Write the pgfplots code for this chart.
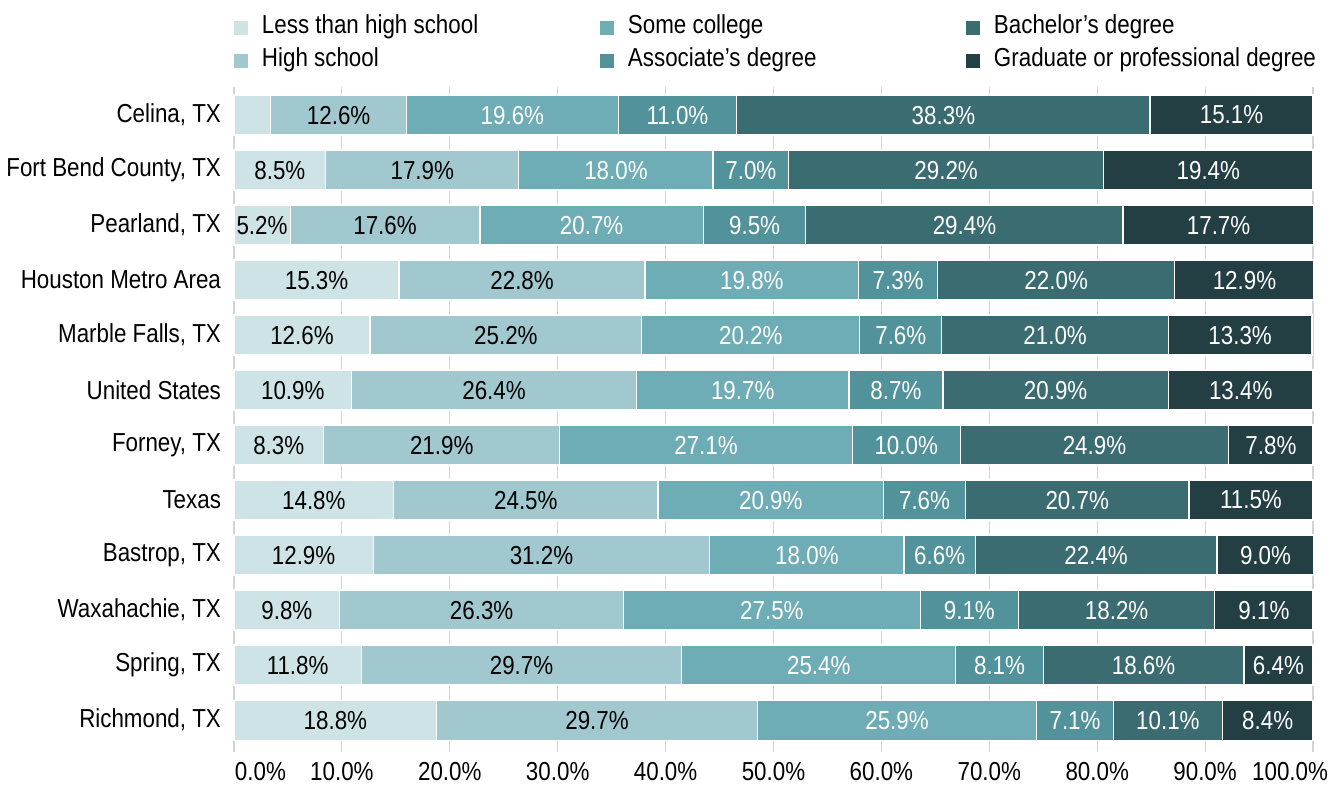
\documentclass[border=0pt]{standalone}
\usepackage{fontspec}
\setmainfont[FakeStretch=0.86]{Liberation Sans}
\usepackage{pgfplots}
\usepackage{pgfplotstable}
\pgfplotsset{compat=1.18}
\definecolor{c1}{HTML}{CDE3E6}
\definecolor{c2}{HTML}{A1C8CE}
\definecolor{c3}{HTML}{6FADB6}
\definecolor{c4}{HTML}{52939B}
\definecolor{c5}{HTML}{3B6C72}
\definecolor{c6}{HTML}{243F44}
\definecolor{gridc}{HTML}{D4D4D4}
\pgfplotstableread{
idx a b c d e f
0 3.4 12.6 19.6 11.0 38.3 15.1
1 8.5 17.9 18.0 7.0 29.2 19.4
2 5.2 17.6 20.7 9.5 29.4 17.7
3 15.3 22.8 19.8 7.3 22.0 12.9
4 12.6 25.2 20.2 7.6 21.0 13.3
5 10.9 26.4 19.7 8.7 20.9 13.4
6 8.3 21.9 27.1 10.0 24.9 7.8
7 14.8 24.5 20.9 7.6 20.7 11.5
8 12.9 31.2 18.0 6.6 22.4 9.0
9 9.8 26.3 27.5 9.1 18.2 9.1
10 11.8 29.7 25.4 8.1 18.6 6.4
11 18.8 29.7 25.9 7.1 10.1 8.4
}\data
\newcommand{\fs}{\fontsize{13}{15.6}\selectfont}
\pgfplotsset{
  seg/.style n args={3}{
    fill=#2, draw=white, line width=0.6pt,
    visualization depends on={\thisrow{#1}\as\segw},
    point meta=explicit,
    nodes near coords={\ifdim\segw pt<4pt\else\pgfmathprintnumber[fixed,fixed zerofill,precision=1,assume math mode=true]{\segw}\%\fi},
    every node near coord/.append style={text=#3, anchor=center, font=\fs},
  }
}
\begin{document}
\begin{tikzpicture}
\useasboundingbox (-117pt,-17.5pt) rectangle (550pt,376pt);
\begin{axis}[
  at={(0,0)}, anchor=south west,
  scale only axis, width=539.5pt, height=332.5pt,
  xbar stacked, bar width=20pt,
  clip=false,
  xmin=0, xmax=100,
  ymin=-0.51, ymax=11.58, y dir=reverse,
  ytick={0,...,11},
  yticklabels={{Celina, TX}, {Fort Bend County, TX}, {Pearland, TX}, {Houston Metro Area}, {Marble Falls, TX}, {United States}, {Forney, TX}, {Texas}, {Bastrop, TX}, {Waxahachie, TX}, {Spring, TX}, {Richmond, TX}},
  xtick={0,10,...,100},
  xticklabels={\makebox[0pt][l]{\kern0.5pt 0.0\%}, 10.0\%, 20.0\%, 30.0\%, 40.0\%, 50.0\%, 60.0\%, 70.0\%, 80.0\%, 90.0\%, \makebox[0pt][r]{100.0\%\kern-7.5pt}},
  ticklabel style={font=\fs, text=black},
  xticklabel style={yshift=-1.5pt},
  yticklabel style={xshift=-3pt},
  xmajorgrids, major grid style={gridc, line width=0.6pt},
  axis line style={draw=none},
  major tick length=0pt,
  legend image code/.code={\fill[#1, draw=none] (0pt,-3.5pt) rectangle (7pt,3.5pt);},
  legend columns=3,
  legend cell align=left,
  legend style={draw=none, fill=none, inner sep=0pt, outer sep=0pt,
    at={(0,1)}, anchor=south west, yshift=5pt,
    font=\fs,
    nodes={inner sep=2pt, text height=9pt, text depth=3pt},
    row sep=0.5pt,
    /tikz/every odd column/.append style={column sep=5pt}},
]
\addlegendimage{fill=c1}
\addlegendimage{fill=c3}
\addlegendimage{fill=c5}
\addlegendimage{fill=c2}
\addlegendimage{fill=c4}
\addlegendimage{fill=c6}
\legend{\makebox[167pt][l]{Less than high school},\makebox[167pt][l]{Some college},Bachelor's degree,\makebox[167pt][l]{High school},\makebox[167pt][l]{Associate's degree},Graduate or professional degree}
\addplot[seg={a}{c1}{black}] table[x=a, y=idx, meta=a]{\data};
\addplot[seg={b}{c2}{black}] table[x=b, y=idx, meta=b]{\data};
\addplot[seg={c}{c3}{white}] table[x=c, y=idx, meta=c]{\data};
\addplot[seg={d}{c4}{white}] table[x=d, y=idx, meta=d]{\data};
\addplot[seg={e}{c5}{white}] table[x=e, y=idx, meta=e]{\data};
\addplot[seg={f}{c6}{white}] table[x=f, y=idx, meta=f]{\data};
\end{axis}
\end{tikzpicture}
\end{document}
